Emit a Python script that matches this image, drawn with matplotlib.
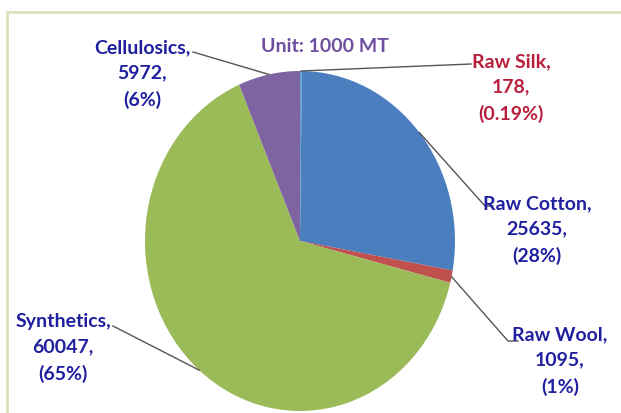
import matplotlib.pyplot as plt
from matplotlib.patches import Rectangle
import numpy as np

# fibre production, unit 1000 MT
fibres = ['Raw Silk', 'Raw Cotton', 'Raw Wool', 'Synthetics', 'Cellulosics']
values = [178, 25635, 1095, 60047, 5972]
pct_labels = ['0.19%', '28%', '1%', '65%', '6%']
unit_text = 'Unit: 1000 MT'

colors = ['#5BA3CF', '#4A7EBF', '#C0504D', '#9BBB59', '#8064A2']
text_colors = ['#B81E3C', '#1F1FA0', '#1F1FA0', '#1F1FA0', '#1F1FA0']

W, H = 621, 414
CX, CY, RX, RY = 300, 242, 155, 170


def px(x, y):
    # pixel position (from top-left) -> data coords of the pie axes
    return (x - CX) / RX, (CY - y) / RY


def main():
    plt.rcParams['font.family'] = ['Lato', 'DejaVu Sans']
    fig = plt.figure(figsize=(W / 100, H / 100), dpi=100)
    ax = fig.add_axes([0, 0, 1, 1])

    wedges, _ = ax.pie(values, colors=colors, startangle=90, counterclock=False,
                       wedgeprops=dict(linewidth=0))
    ax.set_aspect('auto')
    ax.set_xlim(-CX / RX, (W - CX) / RX)
    ax.set_ylim((CY - H) / RY, CY / RY)
    ax.axis('off')

    # label block centers and elbow points (pixels)
    text_pos = [(511, 88), (537, 230), (560, 361), (63, 348), (142, 74)]
    elbows = [[(471, 65)], [(485, 207), (493, 207)], [(508, 342), (518, 342)],
              [(113, 327)], [(193, 53)]]

    for i, w in enumerate(wedges):
        ang = np.deg2rad((w.theta1 + w.theta2) / 2)
        x0, y0 = np.cos(ang), np.sin(ang)
        pts = [(x0, y0)] + [px(*p) for p in elbows[i]]
        ax.plot([p[0] for p in pts], [p[1] for p in pts], color='#555555', lw=1)
        tx, ty = px(*text_pos[i])
        ax.text(tx, ty, f'{fibres[i]},\n{values[i]},\n({pct_labels[i]})',
                ha='center', va='center', multialignment='center',
                fontsize=14, fontweight='bold', color=text_colors[i],
                linespacing=1.6)

    ux, uy = px(325, 46)
    ax.text(ux, uy, unit_text, ha='center', va='center', fontsize=14,
            fontweight='bold', color='#6E4E9E')

    # light green frame (only top and left edges visible)
    fig.patches.append(Rectangle((7 / W, -0.1), 1.2, (H - 13) / H + 0.1,
                                 transform=fig.transFigure, fill=False,
                                 edgecolor='#D7E4BD', lw=2))

    fig.savefig('out.png', dpi=100)


if __name__ == '__main__':
    main()
